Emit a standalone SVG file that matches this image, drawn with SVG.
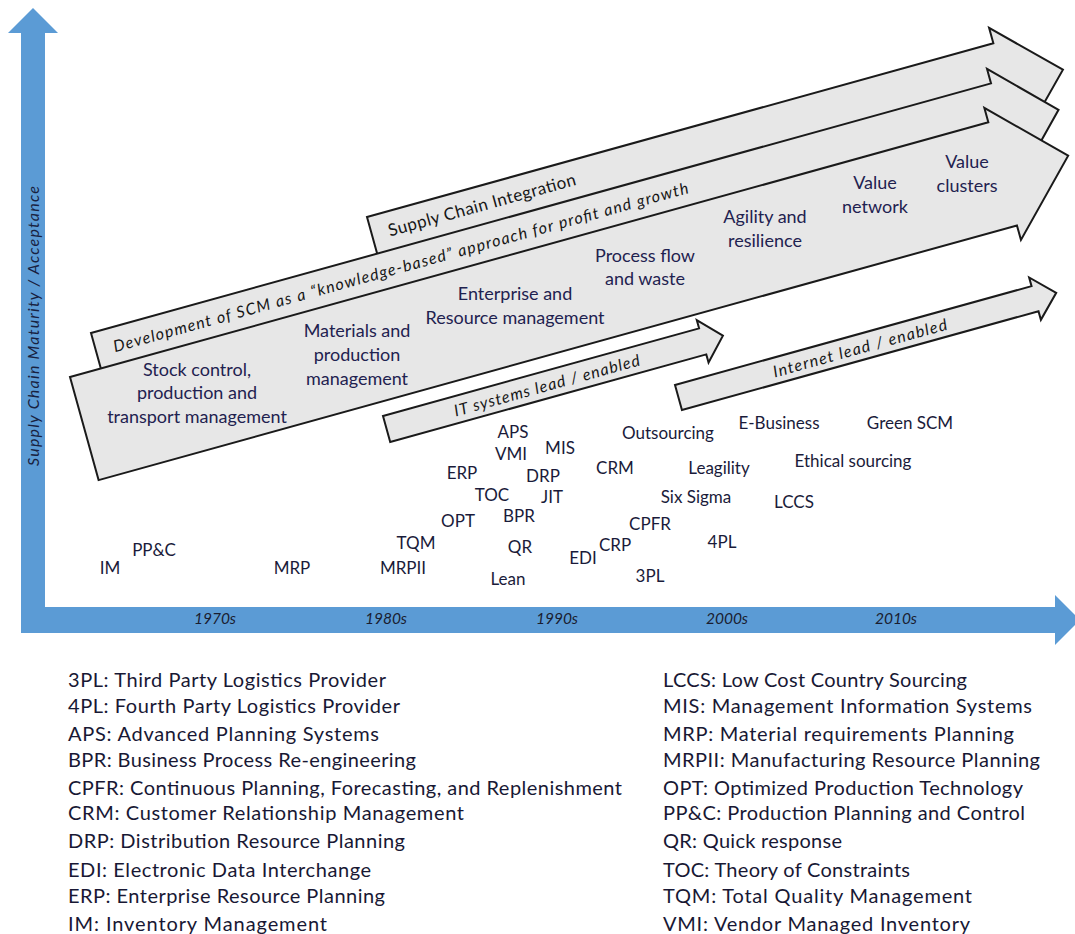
<svg xmlns="http://www.w3.org/2000/svg" width="1075" height="934" viewBox="0 0 1075 934">
  <style>
    .band { fill: #e7e7e7; stroke: #1a1a1a; stroke-width: 2; stroke-linejoin: miter; }
    .axis { fill: #5b9bd5; }
    .era { font-family: Lato, "Open Sans", sans-serif; font-size: 18px; fill: #1f2250; text-anchor: middle; }
    .tag { font-family: Lato, "Open Sans", sans-serif; font-size: 17px; fill: #1a1b3a; text-anchor: middle; }
    .strip { font-family: Lato, "Open Sans", sans-serif; font-size: 17px; fill: #161616; }
    .strip-i { font-family: Lato, "Open Sans", sans-serif; font-size: 16px; font-style: italic; fill: #161616; }
    .decade { font-family: Lato, "Open Sans", sans-serif; font-size: 15.5px; font-style: italic; fill: #1a1d30; text-anchor: middle; }
    .ylabel { font-family: Lato, "Open Sans", sans-serif; font-size: 16px; font-style: italic; fill: #18213f; }
    .key { font-family: Lato, "Open Sans", sans-serif; font-size: 20px; fill: #181834; }
  </style>

  <!-- Axes: maturity (vertical) and time (horizontal) -->
  <g id="axes">
    <path class="axis" d="M21,33 H8 L33,8 L58,33 H45 V607 H1055 V595 L1080,620 L1055,645 V633 H21 Z"/>
    <text class="ylabel" transform="translate(39,326) rotate(-90)" text-anchor="middle" textLength="280">Supply Chain Maturity / Acceptance</text>
    <text class="decade" x="215" y="624">1970s</text>
    <text class="decade" x="386" y="624">1980s</text>
    <text class="decade" x="557" y="624">1990s</text>
    <text class="decade" x="727" y="624">2000s</text>
    <text class="decade" x="896" y="624">2010s</text>
  </g>

  <!-- Supply Chain Integration band (back) -->
  <g id="band-integration" transform="translate(367,217) rotate(-15.5)">
    <path class="band" d="M0,0 H650 V-16 L710,44 L650,104 V88 H0 Z"/>
    <text class="strip" x="17" y="25" textLength="194">Supply Chain Integration</text>
  </g>

  <!-- Knowledge-based SCM band (middle) -->
  <g id="band-knowledge" transform="translate(91,333) rotate(-15.5)">
    <path class="band" d="M0,0 H934 V-15 L992,43.5 L934,102 V87 H0 Z"/>
    <text class="strip-i" x="18" y="25" textLength="596">Development of SCM as a “knowledge-based” approach for profit and growth</text>
  </g>

  <!-- Management focus band (front) -->
  <g id="band-focus" transform="translate(70,377) rotate(-15.5)">
    <path class="band" d="M0,0 H953 V-15 L1021,53.5 L953,122 V107 H0 Z"/>
  </g>
  <g id="focus-stages">
    <text class="era" x="197" y="376">Stock control,</text>
    <text class="era" x="197" y="399">production and</text>
    <text class="era" x="197" y="423">transport management</text>
    <text class="era" x="357" y="337">Materials and</text>
    <text class="era" x="357" y="361">production</text>
    <text class="era" x="357" y="385">management</text>
    <text class="era" x="515" y="300">Enterprise and</text>
    <text class="era" x="515" y="324">Resource management</text>
    <text class="era" x="645" y="262">Process flow</text>
    <text class="era" x="645" y="285">and waste</text>
    <text class="era" x="765" y="223">Agility and</text>
    <text class="era" x="765" y="247">resilience</text>
    <text class="era" x="875" y="189">Value</text>
    <text class="era" x="875" y="213">network</text>
    <text class="era" x="967" y="168">Value</text>
    <text class="era" x="967" y="192">clusters</text>
  </g>

  <!-- IT systems band -->
  <g id="band-it" transform="translate(383,416) rotate(-15.5)">
    <path class="band" d="M0,0 H328 V-8.5 L349,13.5 L328,35.5 V27 H0 Z"/>
    <text class="strip-i" x="166" y="20" text-anchor="middle" textLength="192">IT systems lead / enabled</text>
  </g>

  <!-- Internet band -->
  <g id="band-internet" transform="translate(675,385) rotate(-15.5)">
    <path class="band" d="M0,0 H370 V-9 L392,13 L370,35 V26 H0 Z"/>
    <text class="strip-i" x="188" y="19.5" text-anchor="middle" textLength="180">Internet lead / enabled</text>
  </g>

  <!-- Practices and systems placed along the timeline -->
  <g id="practices">
    <text class="tag" x="110" y="574">IM</text>
    <text class="tag" x="154" y="556">PP&amp;C</text>
    <text class="tag" x="292" y="574">MRP</text>
    <text class="tag" x="403" y="574">MRPII</text>
    <text class="tag" x="416" y="549">TQM</text>
    <text class="tag" x="458" y="527">OPT</text>
    <text class="tag" x="492" y="501">TOC</text>
    <text class="tag" x="462" y="479">ERP</text>
    <text class="tag" x="513" y="438">APS</text>
    <text class="tag" x="511" y="460">VMI</text>
    <text class="tag" x="560" y="454">MIS</text>
    <text class="tag" x="543" y="482">DRP</text>
    <text class="tag" x="552" y="503">JIT</text>
    <text class="tag" x="519" y="522">BPR</text>
    <text class="tag" x="520" y="553">QR</text>
    <text class="tag" x="508" y="585">Lean</text>
    <text class="tag" x="583" y="564">EDI</text>
    <text class="tag" x="615" y="551">CRP</text>
    <text class="tag" x="650" y="530">CPFR</text>
    <text class="tag" x="650" y="582">3PL</text>
    <text class="tag" x="722" y="548">4PL</text>
    <text class="tag" x="615" y="474">CRM</text>
    <text class="tag" x="668" y="439">Outsourcing</text>
    <text class="tag" x="719" y="474">Leagility</text>
    <text class="tag" x="696" y="503">Six Sigma</text>
    <text class="tag" x="794" y="508">LCCS</text>
    <text class="tag" x="779" y="429">E-Business</text>
    <text class="tag" x="853" y="467">Ethical sourcing</text>
    <text class="tag" x="910" y="429">Green SCM</text>
  </g>

  <!-- Abbreviation key -->
  <g id="key-left">
    <text class="key" x="68" y="687" textLength="318">3PL: Third Party Logistics Provider</text>
    <text class="key" x="68" y="713" textLength="332">4PL: Fourth Party Logistics Provider</text>
    <text class="key" x="68" y="741" textLength="311">APS: Advanced Planning Systems</text>
    <text class="key" x="68" y="767" textLength="348">BPR: Business Process Re-engineering</text>
    <text class="key" x="68" y="795" textLength="554">CPFR: Continuous Planning, Forecasting, and Replenishment</text>
    <text class="key" x="68" y="820" textLength="396">CRM: Customer Relationship Management</text>
    <text class="key" x="68" y="848" textLength="337">DRP: Distribution Resource Planning</text>
    <text class="key" x="68" y="877" textLength="303">EDI: Electronic Data Interchange</text>
    <text class="key" x="68" y="903" textLength="317">ERP: Enterprise Resource Planning</text>
    <text class="key" x="68" y="931" textLength="259">IM: Inventory Management</text>
  </g>
  <g id="key-right">
    <text class="key" x="663" y="687" textLength="304">LCCS: Low Cost Country Sourcing</text>
    <text class="key" x="663" y="713" textLength="369">MIS: Management Information Systems</text>
    <text class="key" x="663" y="741" textLength="351">MRP: Material requirements Planning</text>
    <text class="key" x="663" y="767" textLength="377">MRPII: Manufacturing Resource Planning</text>
    <text class="key" x="663" y="795" textLength="360">OPT: Optimized Production Technology</text>
    <text class="key" x="663" y="820" textLength="362">PP&amp;C: Production Planning and Control</text>
    <text class="key" x="663" y="848" textLength="179">QR: Quick response</text>
    <text class="key" x="663" y="877" textLength="247">TOC: Theory of Constraints</text>
    <text class="key" x="663" y="903" textLength="309">TQM: Total Quality Management</text>
    <text class="key" x="663" y="931" textLength="307">VMI: Vendor Managed Inventory</text>
  </g>
</svg>
